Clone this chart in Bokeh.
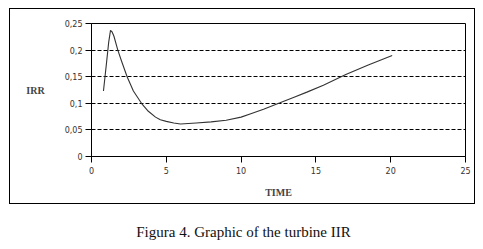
from bokeh.plotting import figure
from bokeh.models import Range1d, FixedTicker, Div
from bokeh.layouts import column
from bokeh.embed import file_html
from bokeh.resources import INLINE

# Data
time = [0.8, 1.0, 1.15, 1.27, 1.38, 1.5, 1.76, 2.0, 2.38, 2.8, 3.34, 3.8, 4.28, 4.6,
        5.0, 5.5, 5.95, 7.0, 8.0, 9.0, 10.0, 10.6, 11.5, 12.6, 13.5, 14.4, 15.5,
        17.0, 18.5, 20.1]
irr = [0.123, 0.175, 0.215, 0.237, 0.234, 0.226, 0.200, 0.180, 0.150, 0.123, 0.100,
       0.085, 0.074, 0.069, 0.066, 0.063, 0.061, 0.063, 0.065, 0.068, 0.074, 0.080,
       0.089, 0.101, 0.111, 0.121, 0.134, 0.154, 0.172, 0.190]
x_ticks = [0, 5, 10, 15, 20, 25]
y_ticks = [0, 0.05, 0.1, 0.15, 0.2, 0.25]
y_tick_labels = ["0", "0,05", "0,1", "0,15", "0,2", "0,25"]
grid_levels = [0.05, 0.1, 0.15, 0.2]
x_label = "TIME"
y_label = "IRR"
caption = "Figura 4. Graphic of the turbine IIR"

p = figure(width=466, height=196, output_backend="svg", toolbar_location=None,
           x_range=Range1d(0, 25), y_range=Range1d(0, 0.25),
           min_border_left=81, min_border_right=11, min_border_top=14,
           min_border_bottom=49)
p.styles = {"border": "1px solid black", "margin-left": "9px", "margin-top": "8px"}
p.background_fill_color = "white"
p.border_fill_color = "white"
p.outline_line_color = "black"
p.outline_line_width = 1

p.line(time, irr, line_color="#333333", line_width=1.1)

# axes
for ax in (p.xaxis[0], p.yaxis[0]):
    ax.axis_line_color = "black"
    ax.major_tick_line_color = "black"
    ax.major_tick_in = 0
    ax.major_tick_out = 6
    ax.minor_tick_line_color = None
    ax.major_label_text_font = "DejaVu Sans"
    ax.major_label_text_font_size = "8px"
    ax.major_label_text_color = "#333333"

p.xaxis.ticker = FixedTicker(ticks=x_ticks)
p.xaxis.major_label_standoff = 4
p.xaxis.axis_label = x_label
p.xaxis.axis_label_text_font = "Liberation Serif"
p.xaxis.axis_label_text_font_style = "bold"
p.xaxis.axis_label_text_font_size = "10px"
p.xaxis.axis_label_standoff = 10

p.yaxis.ticker = FixedTicker(ticks=y_ticks)
p.yaxis.major_label_overrides = {t: l for t, l in zip(y_ticks, y_tick_labels)}
p.yaxis.major_label_standoff = 3
p.yaxis.axis_label = y_label
p.yaxis.axis_label_orientation = "horizontal"
p.yaxis.axis_label_text_font = "Liberation Serif"
p.yaxis.axis_label_text_font_style = "bold"
p.yaxis.axis_label_text_font_size = "10px"
p.yaxis.axis_label_standoff = 17
p.yaxis.axis_label_text_baseline = "top"

# grid
p.xgrid.grid_line_color = None
p.ygrid.ticker = FixedTicker(ticks=grid_levels)
p.ygrid.grid_line_color = "black"
p.ygrid.grid_line_dash = "4 2"
p.ygrid.grid_line_width = 1

cap = Div(text=caption, width=483, height=20,
          styles={"font-family": "Liberation Serif", "font-size": "15px",
                  "text-align": "center", "color": "#111111",
                  "margin-top": "18px", "margin-left": "2px"})

layout = column(p, cap, spacing=0)
open("out.html", "w").write(file_html(layout, INLINE))
